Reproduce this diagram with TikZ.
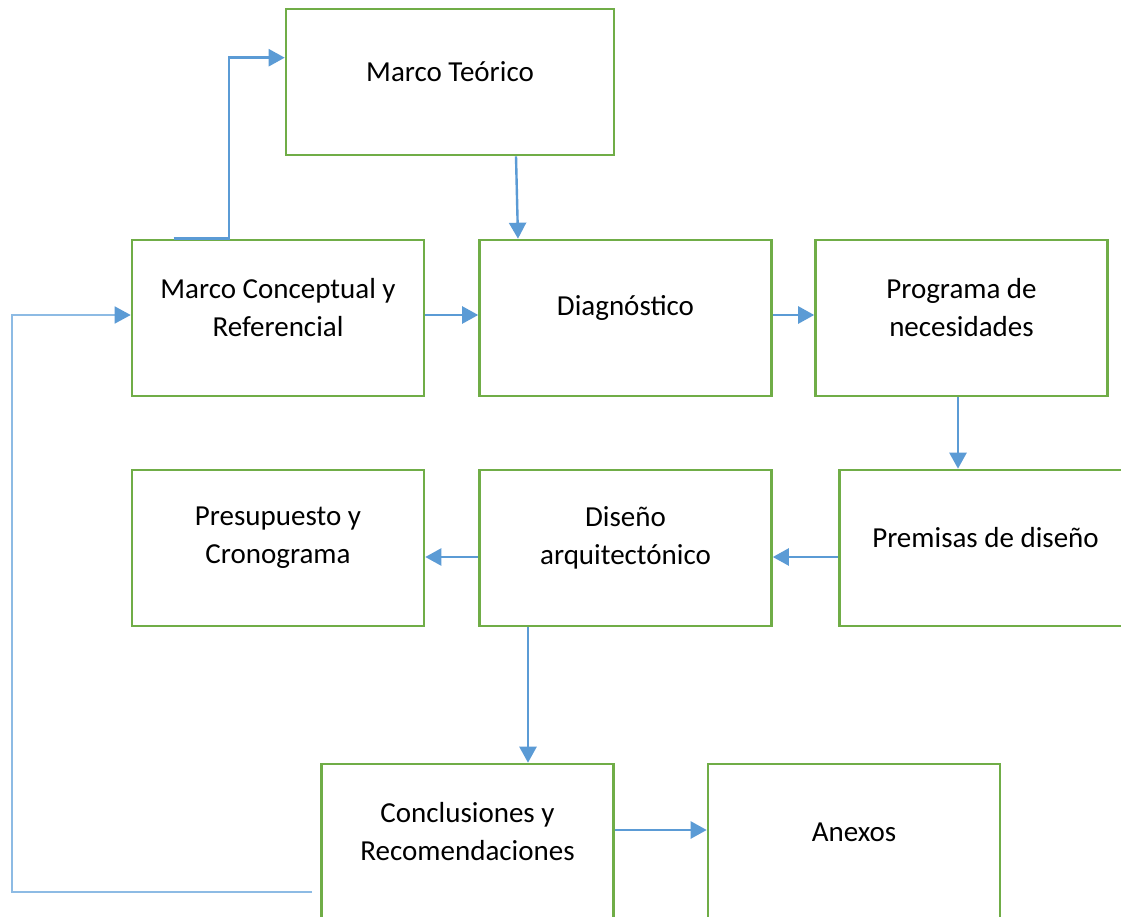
\documentclass[tikz,border=0pt]{standalone}
\usepackage{fontspec}
\setmainfont{Carlito}
\usetikzlibrary{arrows.meta,calc}
\definecolor{boxgreen}{RGB}{112,173,71}
\definecolor{arrblue}{RGB}{91,155,213}
\definecolor{fbblue}{RGB}{141,187,228}
\begin{document}
\begin{tikzpicture}[x=1pt,y=-1pt,
  box/.style={draw=boxgreen,line width=2.6pt,minimum width=292pt,minimum height=156pt,inner sep=0pt,fill=white},
  txt/.style={align=center,font=\fontsize{29}{38}\selectfont,inner sep=0pt},
  arr/.style={draw=arrblue,line width=2.4pt,-{Triangle[length=16pt,width=17pt]}},
  fb/.style={draw=fbblue,line width=1.6pt,-{Triangle[length=16pt,width=17pt,color=arrblue]}}]
\clip (0,0) rectangle (1121,917);
\fill[white] (0,0) rectangle (1121,917);
% boxes
\node[box,minimum width=328pt,minimum height=146pt] (mt) at (450,82) {};
\node[box] (mc) at (278,318) {};
\node[box] (diag) at (625.5,318) {};
\node[box] (prog) at (961.5,318) {};
\node[box] (prem) at (985.5,548) {};
\node[box] (dis) at (625.5,548) {};
\node[box] (pres) at (278,548) {};
\node[box] (conc) at (467.5,842) {};
\node[box] (anx) at (854,842) {};
% texts
\node[txt] (tmt) at (450,72) {Marco Teórico};
\node[txt] (tmc) at (278,308) {Marco Conceptual y\\Referencial};
\node[txt] (tdiag) at (625.5,308) {Diagnóstico};
\node[txt] (tprog) at (961.5,308) {Programa de\\necesidades};
\node[txt] (tprem) at (985.5,538) {Premisas de diseño};
\node[txt] (tdis) at (625.5,538) {Diseño\\arquitectónico};
\node[txt] (tpres) at (278,538) {Presupuesto y\\Cronograma};
\node[txt] (tconc) at (467.5,832) {Conclusiones y\\Recomendaciones};
\node[txt] (tanx) at (854,832) {Anexos};
% connectors
\draw[arr] ($(mc.north west)+(43,0)$) -- ($(mc.north west)+(98,0)$) |- ($(mt.north west)+(0,50)$);
\draw[arr] ($(mt.south)+(66,0)$) -- ($(diag.north)+(-107.5,0)$);
\draw[arr] ($(mc.east)+(0,-3)$) -- ($(diag.west)+(0,-3)$);
\draw[arr] ($(diag.east)+(0,-3)$) -- ($(prog.west)+(0,-3)$);
\draw[arr] ($(prog.south)+(-3.5,0)$) -- ($(prem.north)+(-27.5,0)$);
\draw[arr] ($(prem.west)+(0,9)$) -- ($(dis.east)+(0,9)$);
\draw[arr] ($(dis.west)+(0,9)$) -- ($(pres.east)+(0,9)$);
\draw[arr] ($(dis.south)+(-97.5,0)$) -- ($(conc.north)+(60.5,0)$);
\draw[arr] ($(conc.east)+(0,-12)$) -- ($(anx.west)+(0,-12)$);
\coordinate (fbstart) at ($(conc.west)+(-8,50)$);
\coordinate (fbcorner) at (12,892);
\draw[fb] (fbstart) -- (fbcorner) |- ($(mc.west)+(0,-3)$);
\end{tikzpicture}
\end{document}
